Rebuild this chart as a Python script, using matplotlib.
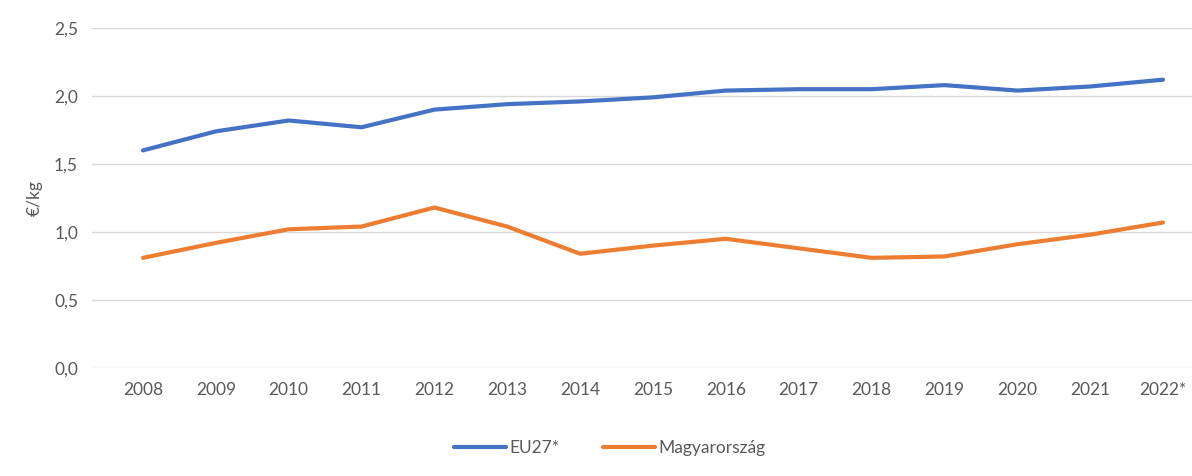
import numpy as np
import matplotlib.pyplot as plt

years = np.arange(2008, 2023)
year_labels = [str(y) for y in years[:-1]] + ["2022*"]
eu27 = [1.60, 1.74, 1.82, 1.77, 1.90, 1.94, 1.96, 1.99, 2.04, 2.05, 2.05, 2.08, 2.04, 2.07, 2.12]
hungary = [0.81, 0.92, 1.02, 1.04, 1.18, 1.04, 0.84, 0.90, 0.95, 0.88, 0.81, 0.82, 0.91, 0.98, 1.07]
y_ticks = [0.0, 0.5, 1.0, 1.5, 2.0, 2.5]

text_color = "#595959"
plt.rcParams['font.family'] = ['Lato', 'DejaVu Sans']

fig = plt.figure(figsize=(11.92, 4.76), dpi=100)
ax = fig.add_axes([92 / 1192, 1 - 368 / 476, 1100 / 1192, 340 / 476])

ax.plot(years, eu27, color="#4472C4", lw=3, label="EU27*", solid_capstyle="round")
ax.plot(years, hungary, color="#ED7D31", lw=3, label="Magyarország", solid_capstyle="round")

step = 72.9
ax.set_xlim(2008 - 51 / step, 2022 + 29 / step)
ax.set_ylim(0, 2.5)
ax.set_yticks(y_ticks)
ax.set_yticklabels([f"{v:.1f}".replace(".", ",") for v in y_ticks])
ax.set_xticks(years)
ax.set_xticklabels(year_labels)
ax.grid(axis="y", color="#D9D9D9", lw=1)
ax.set_axisbelow(True)
for s in ax.spines.values():
    s.set_visible(False)
ax.tick_params(length=0, labelsize=12.5, colors=text_color, pad=10)
ax.tick_params(axis="y", pad=10)
ax.set_ylabel("€/kg", color=text_color, fontsize=12.5, labelpad=8)

ax.legend(loc="center", bbox_to_anchor=(0.5 - 32 / 1100, -0.235), ncol=2, frameon=False,
          fontsize=12.5, labelcolor=text_color, handlelength=3.0, handletextpad=0.2,
          columnspacing=2.5)

fig.savefig("out.png", dpi=100)
